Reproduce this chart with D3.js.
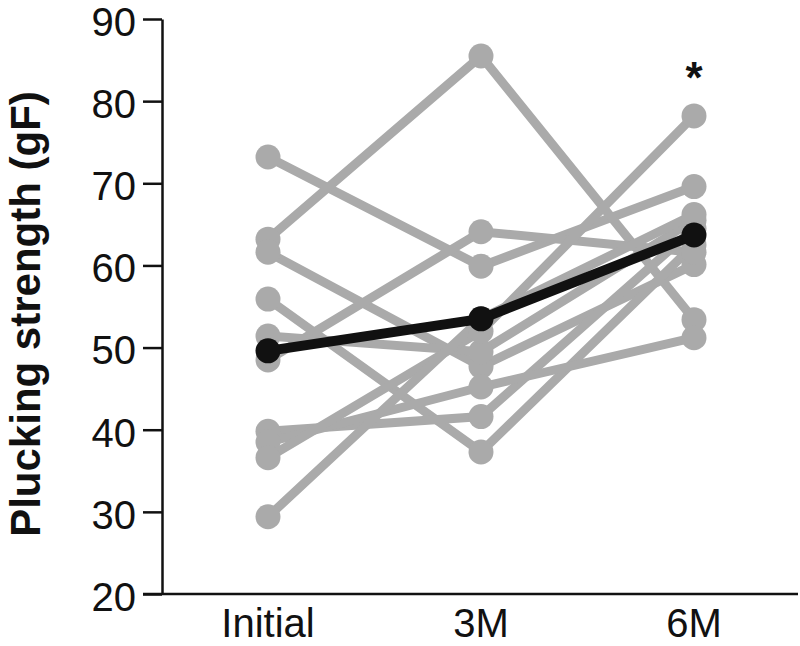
<!DOCTYPE html>
<html>
<head>
<meta charset="utf-8">
<script src="https://cdn.jsdelivr.net/npm/d3@7/dist/d3.min.js"></script>
<style>
  body { margin: 0; background: #fff; }
  svg { display: block; font-family: "Liberation Sans", Arial, sans-serif; }
</style>
</head>
<body>
<svg id="chart"></svg>
<script>
var width = 800,
    height = 646;

// time points
var timepoints = ["Initial", "3M", "6M"];

// individual subjects, one value per time point (gF)
var subjects = [
  [73.2, 59.9, 69.6],
  [63.2, 85.5, 53.4],
  [61.6, 47.7, 60.1],
  [55.9, 37.3, 62.5],
  [48.5, 64.1, 61.6],
  [51.4, 49.5, 65.5],
  [39.8, 41.6, 64.5],
  [38.5, 45.2, 51.2],
  [36.6, 52.0, 78.2],
  [29.4, 53.5, 66.2]
];

// group mean
var meanValues = [49.6, 53.5, 63.7];

var yTicks = [20, 30, 40, 50, 60, 70, 80, 90];

var svg = d3.select("#chart")
    .attr("width", width)
    .attr("height", height);

var x = d3.scalePoint()
    .domain(timepoints)
    .range([268, 694]);

var y = d3.scaleLinear()
    .domain([20, 90])
    .range([594, 19]);

var line = d3.line()
    .x((d, i) => x(timepoints[i]))
    .y(d => y(d));

// y axis
var yAxis = svg.append("g")
    .attr("transform", "translate(162,0)")
    .call(d3.axisLeft(y).tickValues(yTicks).tickSize(19).tickPadding(7).tickSizeOuter(0));

yAxis.select(".domain").attr("stroke", "#111").attr("stroke-width", 2.5);
yAxis.selectAll(".tick line").attr("stroke", "#111").attr("stroke-width", 2.5);
yAxis.selectAll(".tick text")
    .attr("fill", "#111")
    .style("font-size", "40px")
    .attr("dy", "0.41em");

// x axis baseline
svg.append("line")
    .attr("x1", 143)
    .attr("x2", 798)
    .attr("y1", y(20))
    .attr("y2", y(20))
    .attr("stroke", "#111")
    .attr("stroke-width", 2.5);

svg.append("g")
    .selectAll("text")
    .data(timepoints)
    .join("text")
    .attr("x", d => x(d))
    .attr("y", 637)
    .attr("text-anchor", "middle")
    .attr("fill", "#111")
    .style("font-size", "40px")
    .text(d => d);

// y title
svg.append("text")
    .attr("transform", "translate(40,314) rotate(-90)")
    .attr("text-anchor", "middle")
    .attr("fill", "#111")
    .style("font-size", "42px")
    .style("font-weight", "bold")
    .text("Plucking strength (gF)");

// subjects
var grey = "#aaaaaa";

svg.append("g")
    .selectAll("path")
    .data(subjects)
    .join("path")
    .attr("d", line)
    .attr("fill", "none")
    .attr("stroke", grey)
    .attr("stroke-width", 9);

subjects.forEach(function (s) {
  svg.append("g")
      .selectAll("circle")
      .data(s)
      .join("circle")
      .attr("cx", (d, i) => x(timepoints[i]))
      .attr("cy", d => y(d))
      .attr("r", 12.5)
      .attr("fill", grey);
});

// mean
svg.append("path")
    .datum(meanValues)
    .attr("d", line)
    .attr("fill", "none")
    .attr("stroke", "#111")
    .attr("stroke-width", 10);

svg.append("g")
    .selectAll("circle")
    .data(meanValues)
    .join("circle")
    .attr("cx", (d, i) => x(timepoints[i]))
    .attr("cy", d => y(d))
    .attr("r", 12.5)
    .attr("fill", "#111");

// significance marker
svg.append("text")
    .attr("x", x("6M"))
    .attr("y", 93)
    .attr("text-anchor", "middle")
    .attr("fill", "#111")
    .style("font-size", "44px")
    .style("font-weight", "bold")
    .text("*");
</script>
</body>
</html>
